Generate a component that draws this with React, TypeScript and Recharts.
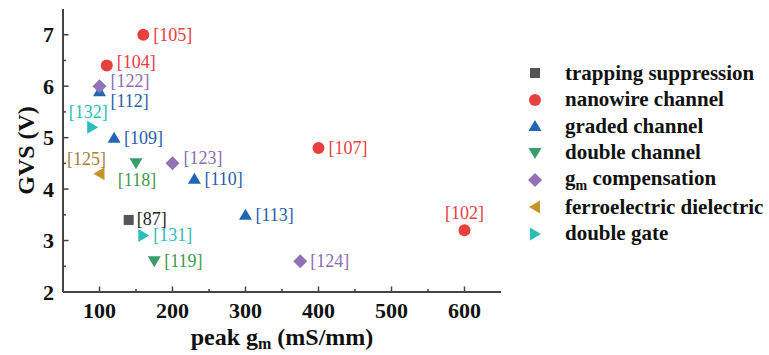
import { ScatterChart, Scatter, XAxis, YAxis, Legend } from "recharts";

// peak gm (mS/mm), GVS (V) and reference tags, one set per technique
const trappingGm = [140];
const trappingGvs = [3.4];
const trappingRefs = ["[87]"];

const nanowireGm = [160, 110, 400, 600];
const nanowireGvs = [7.0, 6.4, 4.8, 3.2];
const nanowireRefs = ["[105]", "[104]", "[107]", "[102]"];

const gradedGm = [100, 120, 230, 300];
const gradedGvs = [5.9, 5.0, 4.2, 3.5];
const gradedRefs = ["[112]", "[109]", "[110]", "[113]"];

const doubleChannelGm = [150, 175];
const doubleChannelGvs = [4.5, 2.6];
const doubleChannelRefs = ["[118]", "[119]"];

const compensationGm = [100, 200, 375];
const compensationGvs = [6.0, 4.5, 2.6];
const compensationRefs = ["[122]", "[123]", "[124]"];

const ferroGm = [100];
const ferroGvs = [4.3];
const ferroRefs = ["[125]"];

const doubleGateGm = [90, 160];
const doubleGateGvs = [5.2, 3.1];
const doubleGateRefs = ["[132]", "[131]"];

const xTicks = [100, 150, 200, 250, 300, 350, 400, 450, 500, 550, 600];
const yTicks = [2, 2.5, 3, 3.5, 4, 4.5, 5, 5.5, 6, 6.5, 7];

const FONT = "Liberation Serif, Tinos, Times New Roman, DejaVu Serif, serif";
const AXIS = "#444";
const MAJOR = 5.5;
const MINOR = 3;

// where each tag sits relative to its marker: [dx, dy, anchor]
const tagSpot: Record<string, [number, number, string]> = {
  "[104]": [10, -4, "start"],
  "[122]": [11, -5, "start"],
  "[112]": [11, 10, "start"],
  "[132]": [-4, -15, "middle"],
  "[125]": [-13, -15, "middle"],
  "[118]": [1, 17, "middle"],
  "[123]": [11, -5, "start"],
  "[102]": [0, -17, "middle"],
  "[87]": [8, -1, "start"],
};

const zip = (gm: number[], gvs: number[], refs: string[]) =>
  gm.map((g, i) => ({ gm: g, gvs: gvs[i], ref: refs[i] }));

const series = [
  { name: "trapping suppression", kind: "square", color: "#555555", text: "#222222", data: zip(trappingGm, trappingGvs, trappingRefs) },
  { name: "nanowire channel", kind: "circle", color: "#e8403f", text: "#e8403f", data: zip(nanowireGm, nanowireGvs, nanowireRefs) },
  { name: "graded channel", kind: "up", color: "#2166b5", text: "#2a5eaa", data: zip(gradedGm, gradedGvs, gradedRefs) },
  { name: "double channel", kind: "down", color: "#3a9d6b", text: "#3f9c4c", data: zip(doubleChannelGm, doubleChannelGvs, doubleChannelRefs) },
  { name: "gm compensation", kind: "diamond", color: "#9172b6", text: "#8e6db4", data: zip(compensationGm, compensationGvs, compensationRefs) },
  { name: "ferroelectric dielectric", kind: "left", color: "#c8922e", text: "#a8803a", data: zip(ferroGm, ferroGvs, ferroRefs) },
  { name: "double gate", kind: "right", color: "#2dbcbc", text: "#2dbcbc", data: zip(doubleGateGm, doubleGateGvs, doubleGateRefs) },
];

function Marker({ kind, cx, cy, color }: { kind: string; cx: number; cy: number; color: string }) {
  switch (kind) {
    case "square":
      return <rect x={cx - 5} y={cy - 5} width={10} height={10} fill={color} />;
    case "circle":
      return <circle cx={cx} cy={cy} r={6} fill={color} />;
    case "up":
      return <polygon points={`${cx},${cy - 6} ${cx + 6.5},${cy + 5} ${cx - 6.5},${cy + 5}`} fill={color} />;
    case "down":
      return <polygon points={`${cx - 6.5},${cy - 5} ${cx + 6.5},${cy - 5} ${cx},${cy + 6}`} fill={color} />;
    case "left":
      return <polygon points={`${cx - 6},${cy} ${cx + 5},${cy - 6.5} ${cx + 5},${cy + 6.5}`} fill={color} />;
    case "right":
      return <polygon points={`${cx + 6},${cy} ${cx - 5},${cy - 6.5} ${cx - 5},${cy + 6.5}`} fill={color} />;
    default:
      return <polygon points={`${cx},${cy - 7} ${cx + 7},${cy} ${cx},${cy + 7} ${cx - 7},${cy}`} fill={color} />;
  }
}

function makeShape(kind: string, color: string, text: string) {
  return (props: any) => {
    const { cx, cy, payload } = props;
    const spot = tagSpot[payload.ref] || [10, 0, "start"];
    return (
      <g>
        <Marker kind={kind} cx={cx} cy={cy} color={color} />
        <text
          x={cx + spot[0]}
          y={cy + spot[1]}
          textAnchor={spot[2] as any}
          dominantBaseline="central"
          style={{ fontFamily: FONT }}
          fontSize={18}
          fill={text}
        >
          {payload.ref}
        </text>
      </g>
    );
  };
}

const BottomTick = (props: any) => {
  const { x, y, payload } = props;
  const major = payload.value % 100 === 0;
  return (
    <g>
      <line x1={x} x2={x} y1={y} y2={y - (major ? MAJOR : MINOR)} stroke={AXIS} strokeWidth={1.5} />
      {major && (
        <text x={x} y={y + 18} textAnchor="middle" dominantBaseline="central" style={{ fontFamily: FONT }} fontWeight="bold" fontSize={22} fill="#111">
          {payload.value}
        </text>
      )}
    </g>
  );
};

const TopTick = (props: any) => {
  const { x, y, payload } = props;
  const major = payload.value % 100 === 0;
  return <line x1={x} x2={x} y1={y} y2={y + (major ? MAJOR : MINOR)} stroke={AXIS} strokeWidth={1.5} />;
};

const LeftTick = (props: any) => {
  const { x, y, payload } = props;
  const major = Number.isInteger(payload.value);
  return (
    <g>
      <line x1={x} x2={x + (major ? MAJOR : MINOR)} y1={y} y2={y} stroke={AXIS} strokeWidth={1.5} />
      {major && (
        <text x={x - 9} y={y} textAnchor="end" dominantBaseline="central" style={{ fontFamily: FONT }} fontWeight="bold" fontSize={22} fill="#111">
          {payload.value}
        </text>
      )}
    </g>
  );
};

const RightTick = (props: any) => {
  const { x, y, payload } = props;
  const major = Number.isInteger(payload.value);
  return <line x1={x} x2={x - (major ? MAJOR : MINOR)} y1={y} y2={y} stroke={AXIS} strokeWidth={1.5} />;
};

function LegendBox() {
  return (
    <div style={{ fontFamily: FONT, fontWeight: "bold", fontSize: 21, color: "#111" }}>
      {series.map((s) => (
        <div key={s.name} style={{ display: "flex", alignItems: "center", height: s.kind === "diamond" ? 28 : 26.5, whiteSpace: "nowrap" }}>
          <svg width={20} height={16} style={{ marginRight: 20, flex: "none" }}>
            <Marker kind={s.kind} cx={10} cy={8} color={s.color} />
          </svg>
          {s.kind === "diamond" ? (
            <span>
              g<sub style={{ fontSize: 14 }}>m</sub> compensation
            </span>
          ) : (
            <span>{s.name}</span>
          )}
        </div>
      ))}
    </div>
  );
}

export default function App() {
  return (
    <div style={{ fontFamily: FONT }}>
      <style>{"body{margin:0;background:#fff}"}</style>
      <ScatterChart width={769} height={355} margin={{ top: 9, right: 268, bottom: 0, left: 0 }}>
        <XAxis
          type="number"
          dataKey="gm"
          domain={[50, 650]}
          ticks={xTicks}
          allowDataOverflow
          height={63}
          axisLine={{ stroke: AXIS, strokeWidth: 2 }}
          tickLine={false}
          tickSize={0}
          tickMargin={0}
          interval={0}
          tick={BottomTick}
          label={{
            content: (p: any) => {
              const vb = p.viewBox;
              return (
                <text x={vb.x + vb.width / 2} y={vb.y + 45} textAnchor="middle" dominantBaseline="central" style={{ fontFamily: FONT }} fontWeight="bold" fontSize={24} fill="#111">
                  peak g<tspan fontSize={16} dy={6}>m</tspan>
                  <tspan dy={-6}> (mS/mm)</tspan>
                </text>
              );
            },
          }}
        />
        <XAxis
          xAxisId="top"
          orientation="top"
          type="number"
          domain={[50, 650]}
          ticks={xTicks}
          allowDataOverflow
          height={0}
          axisLine={{ stroke: AXIS, strokeWidth: 2 }}
          tickLine={false}
          tickSize={0}
          tickMargin={0}
          interval={0}
          tick={TopTick}
        />
        <YAxis
          type="number"
          dataKey="gvs"
          domain={[2, 7.5]}
          ticks={yTicks}
          allowDataOverflow
          width={63}
          axisLine={{ stroke: AXIS, strokeWidth: 2 }}
          tickLine={false}
          tickSize={0}
          tickMargin={0}
          interval={0}
          tick={LeftTick}
          label={{
            content: (p: any) => {
              const vb = p.viewBox;
              const cx = vb.x + 26;
              const cy = vb.y + vb.height / 2;
              return (
                <text x={cx} y={cy} transform={`rotate(-90 ${cx} ${cy})`} textAnchor="middle" dominantBaseline="central" style={{ fontFamily: FONT }} fontWeight="bold" fontSize={24} fill="#111">
                  GVS (V)
                </text>
              );
            },
          }}
        />
        <YAxis
          yAxisId="right"
          orientation="right"
          type="number"
          domain={[2, 7.5]}
          ticks={yTicks}
          allowDataOverflow
          width={0}
          axisLine={{ stroke: AXIS, strokeWidth: 2 }}
          tickLine={false}
          tickSize={0}
          tickMargin={0}
          interval={0}
          tick={RightTick}
        />
        {series.map((s) => (
          <Scatter key={s.name} name={s.name} data={s.data} fill={s.color} shape={makeShape(s.kind, s.color, s.text)} isAnimationActive={false} />
        ))}
        <Legend
          layout="horizontal"
          verticalAlign="middle"
          align="center"
          content={() => <LegendBox />}
          wrapperStyle={{ position: "absolute", left: 525, top: 60, width: 244 }}
        />
      </ScatterChart>
    </div>
  );
}
